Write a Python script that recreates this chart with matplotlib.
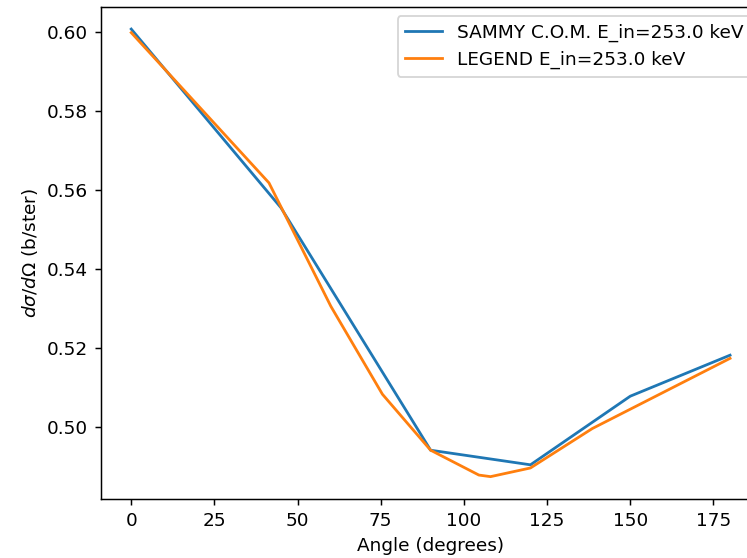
import numpy as np
import matplotlib
matplotlib.use("Agg")
import matplotlib.pyplot as plt

# SAMMY centre-of-mass cross section
angles_sammy = [0, 45, 90, 120, 150, 180]
xs_sammy = [0.6008, 0.5555, 0.4940, 0.4903, 0.5077, 0.5181]

# LEGEND cross section
angles_legend = [0, 41.4, 60, 75.5, 90, 104.5, 108, 120, 138.6, 180]
xs_legend = [0.5999, 0.5618, 0.5305, 0.5082, 0.4940, 0.4877, 0.4873, 0.4895, 0.4995, 0.5173]

label_sammy = "SAMMY C.O.M. E_in=253.0 keV"
label_legend = "LEGEND E_in=253.0 keV"

dpi = 133.33
fig = plt.figure(figsize=(747 / dpi, 558 / dpi), dpi=dpi)
ax = fig.add_axes([0.1356, 0.1057, 0.8818, 0.8823])

ax.plot(angles_sammy, xs_sammy, label=label_sammy)
ax.plot(angles_legend, xs_legend, label=label_legend)
ax.set_xlabel("Angle (degrees)")
ax.set_ylabel(r"$d\sigma/d\Omega$ (b/ster)")
ax.legend(loc="upper right")

fig.savefig("out.png", dpi=dpi)
